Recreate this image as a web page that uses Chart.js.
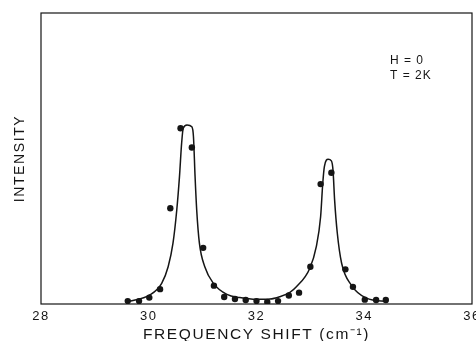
<!DOCTYPE html>
<html>
<head>
<meta charset="utf-8">
<script src="https://cdn.jsdelivr.net/npm/chart.js@4.4.1/dist/chart.umd.min.js"></script>
<style>
  html, body { margin: 0; padding: 0; background: #fff; }
  #wrap { width: 476px; height: 341px; position: relative; }
</style>
</head>
<body>
<div id="wrap"><canvas id="c"></canvas></div>
<script>
// Measured data points (frequency shift in cm^-1, intensity in arbitrary units 0-100)
const pointFreq = [29.61, 29.82, 30.01, 30.21, 30.40, 30.59, 30.80, 31.01, 31.21, 31.40, 31.60, 31.80, 32.00, 32.20, 32.40, 32.60, 32.79, 33.00, 33.19, 33.39, 33.65, 33.79, 34.01, 34.22, 34.40];
const pointIntensity = [1.0, 1.0, 2.2, 5.1, 32.9, 60.4, 53.8, 19.3, 6.3, 2.4, 1.7, 1.4, 1.0, 0.7, 1.0, 2.9, 3.9, 12.8, 41.2, 45.1, 11.9, 5.9, 1.5, 1.4, 1.4];

// Fitted curve
const fitFreq = [29.61, 30.02, 30.24, 30.36, 30.45, 30.52, 30.57, 30.61, 30.64, 30.71, 30.80, 30.83, 30.86, 30.89, 30.94, 31.04, 31.20, 31.45, 31.69, 32.00, 32.25, 32.43, 32.62, 32.74, 32.99, 33.11, 33.19, 33.23, 33.26, 33.33, 33.39, 33.42, 33.45, 33.50, 33.58, 33.76, 34.04, 34.44];
const fitIntensity = [0.8, 3.1, 7.1, 12.8, 20.9, 32.3, 43.7, 55.2, 60.4, 61.5, 60.9, 57.5, 43.7, 32.3, 20.9, 12.8, 7.1, 3.3, 2.2, 1.6, 1.7, 2.5, 4.0, 5.9, 12.3, 19.7, 30.0, 41.5, 47.2, 49.7, 49.2, 46.0, 35.7, 24.3, 14.0, 6.5, 2.0, 0.8];

const xTicks = [28, 30, 32, 34, 36];
const xTitle = 'FREQUENCY SHIFT (cm\u207B\u00B9)';
const yTitle = 'INTENSITY';
const annotLines = ['H = 0', 'T = 2K'];

const ink = '#151515';
const fontFamily = '"Liberation Sans", Arial, sans-serif';

const framePlugin = {
  id: 'frame',
  beforeDraw(chart) {
    chart.ctx.letterSpacing = '1.6px';
  },
  afterDraw(chart) {
    const { ctx, chartArea: a } = chart;
    ctx.save();
    ctx.strokeStyle = ink;
    ctx.lineWidth = 1.2;
    ctx.strokeRect(a.left, a.top, a.right - a.left, a.bottom - a.top);
    ctx.fillStyle = ink;
    ctx.font = '12px ' + fontFamily;
    ctx.letterSpacing = '1px';
    ctx.textAlign = 'left';
    ctx.textBaseline = 'middle';
    ctx.fillText(annotLines[0], 390, 61);
    ctx.fillText(annotLines[1], 390, 76);
    ctx.restore();
  }
};

new Chart(document.getElementById('c'), {
  type: 'scatter',
  data: {
    datasets: [
      {
        label: 'fit',
        data: fitFreq.map((f, i) => ({ x: f, y: fitIntensity[i] })),
        showLine: true,
        borderColor: ink,
        borderWidth: 1.5,
        pointRadius: 0,
        cubicInterpolationMode: 'monotone',
        fill: false
      },
      {
        label: 'data',
        data: pointFreq.map((f, i) => ({ x: f, y: pointIntensity[i] })),
        showLine: false,
        pointRadius: 3.2,
        pointBackgroundColor: ink,
        pointBorderColor: ink,
        pointBorderWidth: 0
      }
    ]
  },
  options: {
    responsive: true,
    maintainAspectRatio: false,
    animation: false,
    layout: { autoPadding: false, padding: { top: 13, right: 4, left: 0, bottom: 0 } },
    plugins: { legend: { display: false }, tooltip: { enabled: false } },
    scales: {
      x: {
        type: 'linear',
        min: 28, max: 36,
        afterBuildTicks(scale) { scale.ticks = xTicks.map(v => ({ value: v })); },
        afterFit(scale) { scale.height = 37; scale.paddingLeft = 0; scale.paddingRight = 0; },
        grid: { display: false, drawTicks: false },
        border: { display: false },
        ticks: { color: ink, padding: 5, font: { family: fontFamily, size: 13 }, maxRotation: 0 },
        title: {
          display: true, text: xTitle, color: ink,
          font: { family: fontFamily, size: 15.5, lineHeight: 1 },
          padding: { top: 0, bottom: -1 }
        }
      },
      y: {
        min: 0, max: 100,
        afterFit(scale) { scale.width = 41; scale.paddingTop = 0; scale.paddingBottom = 0; },
        grid: { display: false, drawTicks: false },
        border: { display: false },
        ticks: { display: false },
        title: {
          display: true, text: yTitle, color: ink,
          font: { family: fontFamily, size: 14, lineHeight: 1 },
          padding: { top: 13, bottom: 0 }
        }
      }
    }
  },
  plugins: [framePlugin]
});
</script>
</body>
</html>
